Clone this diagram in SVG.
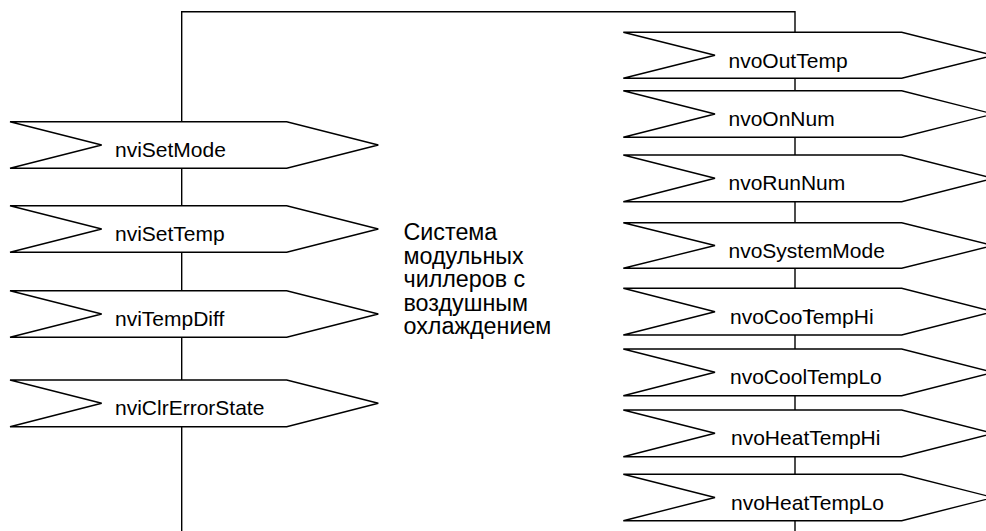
<svg xmlns="http://www.w3.org/2000/svg" width="986" height="531" viewBox="0 0 986 531">
<style>
.sh{fill:#fff;stroke:#000;stroke-width:1.4;stroke-linejoin:miter}
.cn{fill:none;stroke:#000;stroke-width:1.4}
.lb{font-family:"Liberation Sans",Arial,sans-serif;font-size:21px;fill:#000}
.ct{font-family:"Liberation Sans",Arial,sans-serif;font-size:23.3px;fill:#000}
</style>
<g id="connectors">
<path class="cn" d="M181.7,531 V11.7 H795 V531"/>
</g>
<g id="nviSetMode"><polygon class="sh" points="10,121.7 286.7,121.7 378.3,145 286.7,168.3 10,168.3 101.7,145"/><text class="lb" x="115" y="157">nviSetMode</text></g>
<g id="nviSetTemp"><polygon class="sh" points="10,205.7 286.7,205.7 378.3,229 286.7,252.3 10,252.3 101.7,229"/><text class="lb" x="115" y="241">nviSetTemp</text></g>
<g id="nviTempDiff"><polygon class="sh" points="10,290.7 286.7,290.7 378.3,314 286.7,337.3 10,337.3 101.7,314"/><text class="lb" x="115" y="326">nviTempDiff</text></g>
<g id="nviClrErrorState"><polygon class="sh" points="10,380 286.7,380 378.3,403.3 286.7,426.7 10,426.7 101.7,403.3"/><text class="lb" x="115" y="415.3">nviClrErrorState</text></g>
<g id="system"><text class="ct"><tspan x="403.5" y="240">Система</tspan><tspan x="403.5" y="263.5">модульных</tspan><tspan x="403.5" y="287">чиллеров с</tspan><tspan x="403.5" y="310.5">воздушным</tspan><tspan x="403.5" y="334">охлаждением</tspan></text></g>
<g id="nvoOutTemp"><polygon class="sh" points="623.3,32.3 901.7,32.3 993.4,55.3 901.7,78.3 623.3,78.3 715,55.3"/><text class="lb" x="728.5" y="67.5">nvoOutTemp</text></g>
<g id="nvoOnNum"><polygon class="sh" points="623.3,90.7 901.7,90.7 993.4,114 901.7,137.3 623.3,137.3 715,114"/><text class="lb" x="728.5" y="126">nvoOnNum</text></g>
<g id="nvoRunNum"><polygon class="sh" points="623.3,155 901.7,155 993.4,178.3 901.7,201.7 623.3,201.7 715,178.3"/><text class="lb" x="728.5" y="190.3">nvoRunNum</text></g>
<g id="nvoSystemMode"><polygon class="sh" points="623.3,222.7 901.7,222.7 993.4,245.5 901.7,268.3 623.3,268.3 715,245.5"/><text class="lb" x="728.5" y="257.5">nvoSystemMode</text></g>
<g id="nvoCoolTempHi"><polygon class="sh" points="623.3,288.3 901.7,288.3 993.4,311.7 901.7,335 623.3,335 715,311.7"/><text class="lb" x="730" y="323.7">nvoCoo<tspan dx="4.1">l</tspan><tspan dx="-8.8">TempHi</tspan></text></g>
<g id="nvoCoolTempLo"><polygon class="sh" points="623.3,349 901.7,349 993.4,372.3 901.7,395.7 623.3,395.7 715,372.3"/><text class="lb" x="730" y="384.3">nvoCoolTempLo</text></g>
<g id="nvoHeatTempHi"><polygon class="sh" points="623.3,410 901.7,410 993.4,433.3 901.7,456.7 623.3,456.7 715,433.3"/><text class="lb" x="731" y="445.3">nvoHeatTempHi</text></g>
<g id="nvoHeatTempLo"><polygon class="sh" points="623.3,474.3 901.7,474.3 993.4,497.5 901.7,520.7 623.3,520.7 715,497.5"/><text class="lb" x="731" y="509.5">nvoHeatTempLo</text></g>
</svg>
